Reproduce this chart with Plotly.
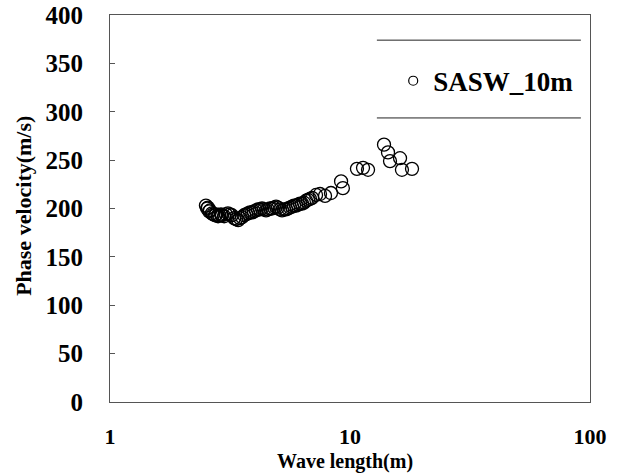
import plotly.graph_objects as go

wave_length = [2.51, 2.54, 2.56, 2.59, 2.61, 2.66, 2.69, 2.74, 2.77, 2.82, 2.85, 2.90, 2.93,
               2.99, 3.04, 3.10, 3.16, 3.22, 3.29, 3.35, 3.42, 3.48, 3.55, 3.62, 3.69, 3.76,
               3.83, 3.91, 3.98, 4.06, 4.14, 4.22, 4.30, 4.38, 4.47, 4.55, 4.64, 4.73, 4.82,
               4.92, 5.01, 5.11, 5.21, 5.31, 5.41, 5.52, 5.62, 5.73, 5.84, 5.96, 6.07, 6.19,
               6.31, 6.43, 6.56, 6.68, 6.81, 6.95, 7.22, 7.50, 7.87, 8.33, 9.18, 9.34,
               10.69, 11.33, 11.89, 13.86, 14.40, 14.68, 16.16, 16.46, 18.13]
phase_velocity = [203, 200, 201, 197, 198, 195, 194, 193, 194, 192, 193, 194, 193,
                  192, 194, 195, 194, 193, 190, 189, 188, 190, 191, 193, 194, 195,
                  196, 196, 197, 198, 199, 199, 200, 199, 198, 199, 200, 200, 201,
                  202, 201, 199, 198, 199, 199, 200, 201, 202, 203, 203, 204, 205,
                  205, 206, 208, 209, 210, 211, 214, 215, 213, 216, 228, 221,
                  241, 242, 240, 266, 258, 249, 252, 240, 241]
series_name = "SASW_10m"
y_ticks = [0, 50, 100, 150, 200, 250, 300, 350, 400]
x_ticks = [1, 10, 100]
x_title = "Wave length(m)"
y_title = "Phase velocity(m/s)"

FONT = "Liberation Serif"

fig = go.Figure()
fig.add_trace(go.Scatter(
    x=wave_length, y=phase_velocity, mode="markers", name=series_name, showlegend=False,
    marker=dict(symbol="circle-open", size=13, color="black", line=dict(width=1.3, color="black")),
))
# legend entry with smaller symbol, as in the reference
fig.add_trace(go.Scatter(
    x=[None], y=[None], mode="markers", name=series_name, showlegend=True,
    marker=dict(symbol="circle-open", size=9, color="black", line=dict(width=1.2, color="black")),
))

fig.update_layout(
    width=624, height=473,
    margin=dict(l=110, r=34, t=15, b=71, autoexpand=False),
    paper_bgcolor="white", plot_bgcolor="white",
    font=dict(family=FONT, color="black"),
    showlegend=True,
    legend=dict(
        x=0.59, y=0.829, xanchor="left", yanchor="middle",
        bgcolor="rgba(255,255,255,0)", borderwidth=0,
        font=dict(family=FONT, size=27, color="black", weight="bold"),
    ),
    xaxis=dict(
        type="log", range=[0, 2], tickvals=x_ticks, ticktext=[str(v) for v in x_ticks],
        tickfont=dict(family=FONT, size=22, weight="bold"),
        ticks="", ticklabelstandoff=15, automargin=False,
        showgrid=False, zeroline=False,
        showline=True, mirror=True, linecolor="#555", linewidth=1,
    ),
    yaxis=dict(
        range=[0, 400], tickvals=y_ticks,
        tickfont=dict(family=FONT, size=25, weight="bold"),
        ticks="inside", ticklen=5, tickcolor="#555", ticklabelstandoff=21, automargin=False,
        showgrid=False, zeroline=False,
        showline=True, mirror=True, linecolor="#555", linewidth=1,
    ),
    annotations=[
        dict(text=x_title, xref="paper", yref="paper", x=0.49, y=-0.153, xanchor="center",
             yanchor="middle", showarrow=False,
             font=dict(family=FONT, size=20, weight="bold", color="black")),
        dict(text=y_title, xref="paper", yref="paper", x=-0.179, y=0.507, xanchor="center",
             yanchor="middle", textangle=-90, showarrow=False,
             font=dict(family=FONT, size=22, weight="bold", color="black")),
    ],
)

# legend frame lines (top and bottom)
for yy in [0.935, 0.734]:
    fig.add_shape(type="line", xref="paper", yref="paper", x0=0.556, x1=0.981, y0=yy, y1=yy,
                  line=dict(color="#222", width=1))

fig.write_html("out.html", config={"displayModeBar": False},
               post_script="document.body.style.margin='0';")
